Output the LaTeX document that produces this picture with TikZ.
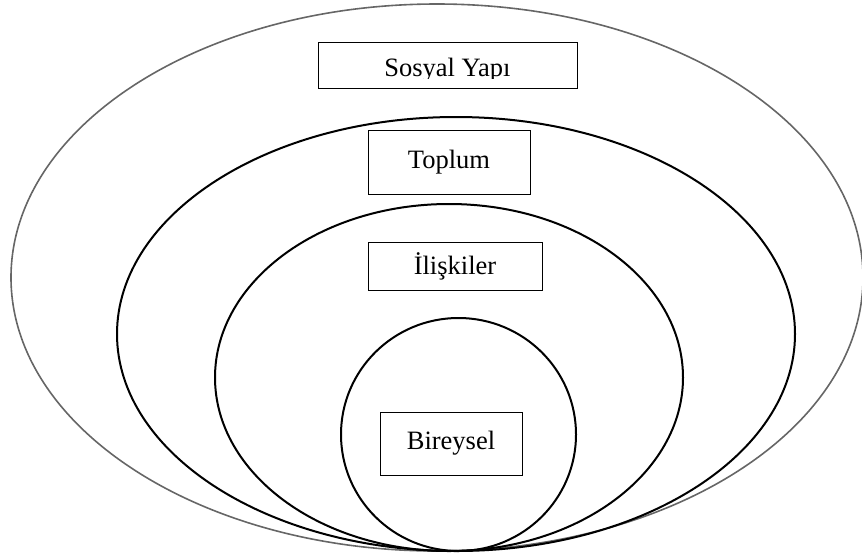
\documentclass[tikz,border=0pt]{standalone}
\usepackage{fontspec}
\setmainfont{Liberation Serif}
\usepackage{tikz}
\usetikzlibrary{positioning}

\begin{document}
\begin{tikzpicture}[
  x=1pt, y=-1pt,
  ring/.style={draw, line width=2pt},
  outerring/.style={draw=black!60, line width=1.6pt},
  box/.style={
    draw,
    line width=1pt,
    inner sep=0pt,
    align=center
  },
  font=\fontsize{26.5}{30}\selectfont
]
\useasboundingbox (0,0) rectangle (862,555);

% nested levels
\draw[outerring] (437,277.5) ellipse [x radius=426, y radius=273.5];
\draw[ring] (456,334) ellipse [x radius=339, y radius=217];
\draw[ring] (449,377.5) ellipse [x radius=234, y radius=173.5];
\draw[ring] (458.5,434.5) ellipse [x radius=117.5, y radius=116.5];

% labels
\node[box, minimum width=259pt, minimum height=46pt] (sosyal) at (447.5,65) {};
\begin{scope}
  \clip (318,42) rectangle (577,78);
  \node[anchor=base, inner sep=0pt] (sosyaltxt) at (447.5,76) {Sosyal Yapı};
\end{scope}
\node[box, minimum width=162pt, minimum height=64pt] (toplum) at (449,162) {Toplum};
\node[box, minimum width=174pt, minimum height=48pt] (iliskiler) at (455,266) {İlişkiler};
\node[box, minimum width=142pt, minimum height=63pt] (bireysel) at (451,443.5) {Bireysel};
\end{tikzpicture}
\end{document}
